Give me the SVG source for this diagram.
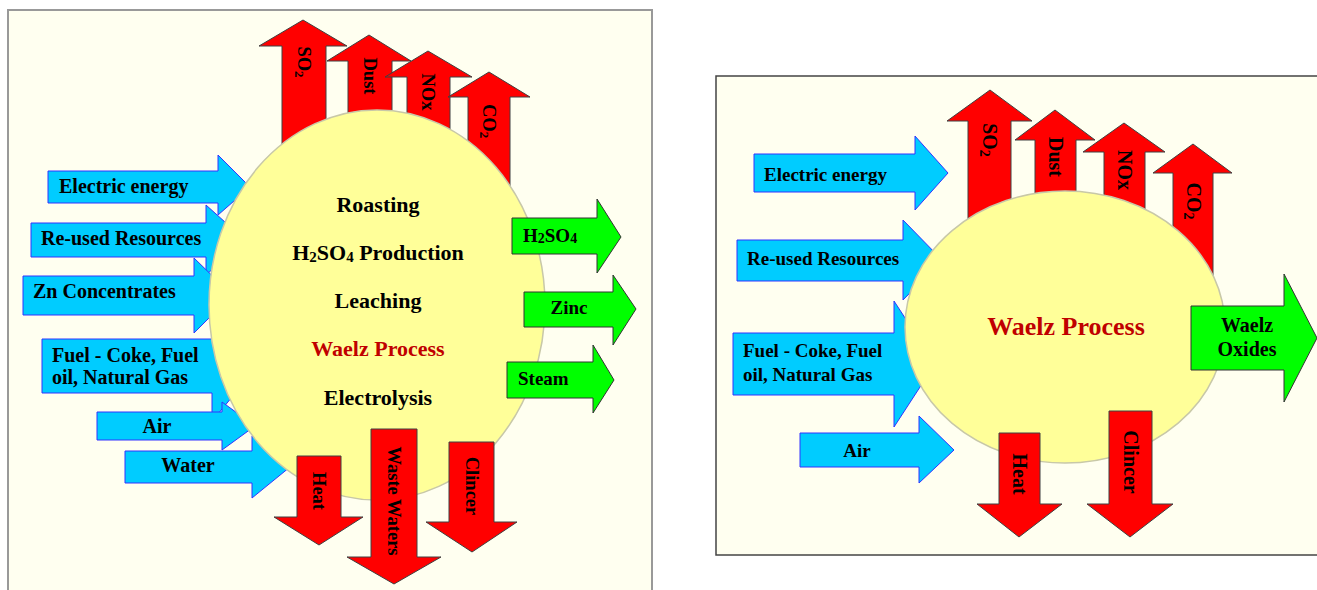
<svg xmlns="http://www.w3.org/2000/svg" width="1317" height="590" viewBox="0 0 1317 590">
<style>
text{font-family:"Liberation Serif","Times New Roman",serif;font-weight:bold;fill:#000}
.red{fill:#FF0000;stroke:#404040;stroke-width:1}
.blue{fill:#00CCFF;stroke:#3333FF;stroke-width:1}
.green{fill:#00FF00;stroke:#333333;stroke-width:1}
.ell{fill:#FFFF99;stroke:#C8C8A8;stroke-width:1.5}
.t18{font-size:18.5px}
.t20{font-size:20px}
.t19{font-size:19px}
.c22{font-size:22px}
.proc{fill:#C00000}
</style>
<rect x="0" y="0" width="1317" height="590" fill="#FFFFFF"/>
<g id="panel-left">
<rect x="8" y="10" width="644" height="600" fill="#FFFFF0" stroke="#999999" stroke-width="2"/>
</g>
<g id="panel-right">
<rect x="716" y="76" width="604" height="479" fill="#FFFFF0" stroke="#444444" stroke-width="1.5"/>
</g>
<g id="connectors">
<!-- Left panel: emission arrows (up) -->
<g id="L-so2"><polygon class="red" points="303,20 347,46 326,46 326,175 282,175 282,46 259,46"/>
<text class="t18" transform="translate(298,62) rotate(90)" text-anchor="middle">SO<tspan font-size="13" dy="3">2</tspan></text></g>
<g id="L-dust"><polygon class="red" points="369,35 411,61 392,61 392,165 348,165 348,61 327,61"/>
<text class="t18" transform="translate(364,76) rotate(90)" text-anchor="middle">Dust</text></g>
<g id="L-nox"><polygon class="red" points="428,51 472,77 450,77 450,175 407,175 407,77 385,77"/>
<text class="t18" transform="translate(422,92) rotate(90)" text-anchor="middle">NOx</text></g>
<g id="L-co2"><polygon class="red" points="489,72 530,97 510,97 510,205 468,205 468,97 448,97"/>
<text class="t18" transform="translate(483,121) rotate(90)" text-anchor="middle">CO<tspan font-size="13" dy="3">2</tspan></text></g>
<!-- Left panel: inputs -->
<g id="L-elec"><polygon class="blue" points="48,171 218,171 218,155 250,187 218,215 218,203 48,203"/></g>
<g id="L-reused"><polygon class="blue" points="31,223 206,223 206,205 245,240 206,275 206,257 31,257"/></g>
<g id="L-zn"><polygon class="blue" points="23,276 194,276 194,258 232,295 194,333 194,315 23,315"/></g>
<g id="L-fuel"><polygon class="blue" points="42,339 212,339 212,311 258,366 212,421 212,393 42,393"/></g>
<g id="L-air"><polygon class="blue" points="97,412 222,412 222,402 255,426 222,450 222,440 97,440"/></g>
<g id="L-water"><polygon class="blue" points="125,451 252,451 252,436 290,467 252,498 252,483 125,483"/></g>
</g>
<g id="L-process">
<ellipse class="ell" cx="377" cy="305" rx="168" ry="195"/>
<text class="c22" x="378" y="212" text-anchor="middle">Roasting</text>
<text class="c22" x="378" y="260" text-anchor="middle">H<tspan font-size="15" dy="2">2</tspan><tspan dy="-2">SO</tspan><tspan font-size="15" dy="2">4</tspan><tspan dy="-2"> Production</tspan></text>
<text class="c22" x="378" y="308" text-anchor="middle">Leaching</text>
<text class="c22 proc" x="378" y="356" text-anchor="middle">Waelz Process</text>
<text class="c22" x="378" y="405" text-anchor="middle">Electrolysis</text>
</g>
<g id="L-input-labels">
<text class="t20" x="59" y="193">Electric energy</text>
<text class="t20" x="41" y="245">Re-used Resources</text>
<text class="t20" x="33" y="298">Zn Concentrates</text>
<text class="t20" x="52" y="362">Fuel - Coke, Fuel</text>
<text class="t20" x="52" y="384">oil, Natural Gas</text>
<text class="t20" x="157" y="433" text-anchor="middle">Air</text>
<text class="t20" x="188" y="472" text-anchor="middle">Water</text>
</g>
<g id="L-outputs">
<g id="L-h2so4"><polygon class="green" points="512,218 597,218 597,199 621,237 597,273 597,254 512,254"/>
<text class="t19" x="523" y="242">H<tspan font-size="14" dy="1">2</tspan><tspan dy="-1">SO</tspan><tspan font-size="14" dy="1">4</tspan></text></g>
<g id="L-zinc"><polygon class="green" points="524,292 613,292 613,275 636,309 613,345 613,327 524,327"/>
<text class="t19" x="569" y="314" text-anchor="middle">Zinc</text></g>
<g id="L-steam"><polygon class="green" points="507,362 593,362 593,345 614,380 593,413 593,398 507,398"/>
<text class="t19" x="518" y="385">Steam</text></g>
</g>
<g id="L-down">
<g id="L-heat"><polygon class="red" points="297,456 341,456 341,517 363,517 319,545 274,517 297,517"/>
<text class="t18" transform="translate(313,491) rotate(90)" text-anchor="middle">Heat</text></g>
<g id="L-waste"><polygon class="red" points="371,429 417,429 417,557 441,557 394,584 347,557 371,557"/>
<text class="t18" transform="translate(388,501) rotate(90)" text-anchor="middle">Waste Waters</text></g>
<g id="L-clincer"><polygon class="red" points="449,442 494,442 494,522 517,522 472,552 426,522 449,522"/>
<text class="t18" transform="translate(466,486) rotate(90)" text-anchor="middle">Clincer</text></g>
</g>
<!-- Right panel -->
<g id="R-up">
<g id="R-so2"><polygon class="red" points="990,90 1032,121 1011,121 1011,255 968,255 968,121 947,121"/>
<text class="t20" transform="translate(983,140) rotate(90)" text-anchor="middle">SO<tspan font-size="14" dy="3">2</tspan></text></g>
<g id="R-dust"><polygon class="red" points="1055,110 1095,140 1076,140 1076,235 1035,235 1035,140 1015,140"/>
<text class="t20" transform="translate(1049,157) rotate(90)" text-anchor="middle">Dust</text></g>
<g id="R-nox"><polygon class="red" points="1124,123 1165,152 1145,152 1145,245 1104,245 1104,152 1083,152"/>
<text class="t20" transform="translate(1118,170) rotate(90)" text-anchor="middle">NOx</text></g>
<g id="R-co2"><polygon class="red" points="1193,144 1232,173 1213,173 1213,290 1173,290 1173,173 1153,173"/>
<text class="t20" transform="translate(1187,201) rotate(90)" text-anchor="middle">CO<tspan font-size="14" dy="3">2</tspan></text></g>
</g>
<g id="R-inputs">
<g id="R-elec"><polygon class="blue" points="754,154 915,154 915,136 948,173 915,210 915,192 754,192"/></g>
<g id="R-reused"><polygon class="blue" points="737,240 903,240 903,220 942,260 903,300 903,281 737,281"/></g>
<g id="R-fuel"><polygon class="blue" points="733,333 894,333 894,301 935,364 894,427 894,395 733,395"/></g>
<g id="R-air"><polygon class="blue" points="800,433 919,433 919,416 954,450 919,483 919,467 800,467"/></g>
</g>
<g id="R-process">
<ellipse class="ell" cx="1065" cy="327" rx="160" ry="136"/>
<text class="proc" x="1066" y="335" text-anchor="middle" font-size="26">Waelz Process</text>
</g>
<g id="R-input-labels">
<text class="t19" x="764" y="181">Electric energy</text>
<text class="t19" x="747" y="265">Re-used Resources</text>
<text class="t19" x="743" y="357">Fuel - Coke, Fuel</text>
<text class="t19" x="743" y="381">oil, Natural Gas</text>
<text class="t19" x="857" y="457" text-anchor="middle">Air</text>
</g>
<g id="R-out">
<polygon class="green" points="1191,306 1284,306 1284,274 1317,338 1284,402 1284,370 1191,370"/>
<text class="t20" x="1247" y="332" text-anchor="middle">Waelz</text>
<text class="t20" x="1247" y="356" text-anchor="middle">Oxides</text>
</g>
<g id="R-down">
<g id="R-heat"><polygon class="red" points="999,433 1040,433 1040,504 1062,504 1019,537 977,504 999,504"/>
<text class="t20" transform="translate(1013,474) rotate(90)" text-anchor="middle">Heat</text></g>
<g id="R-clincer"><polygon class="red" points="1109,411 1152,411 1152,504 1173,504 1130,537 1087,504 1109,504"/>
<text class="t20" transform="translate(1124,462) rotate(90)" text-anchor="middle">Clincer</text></g>
</g>
</svg>
